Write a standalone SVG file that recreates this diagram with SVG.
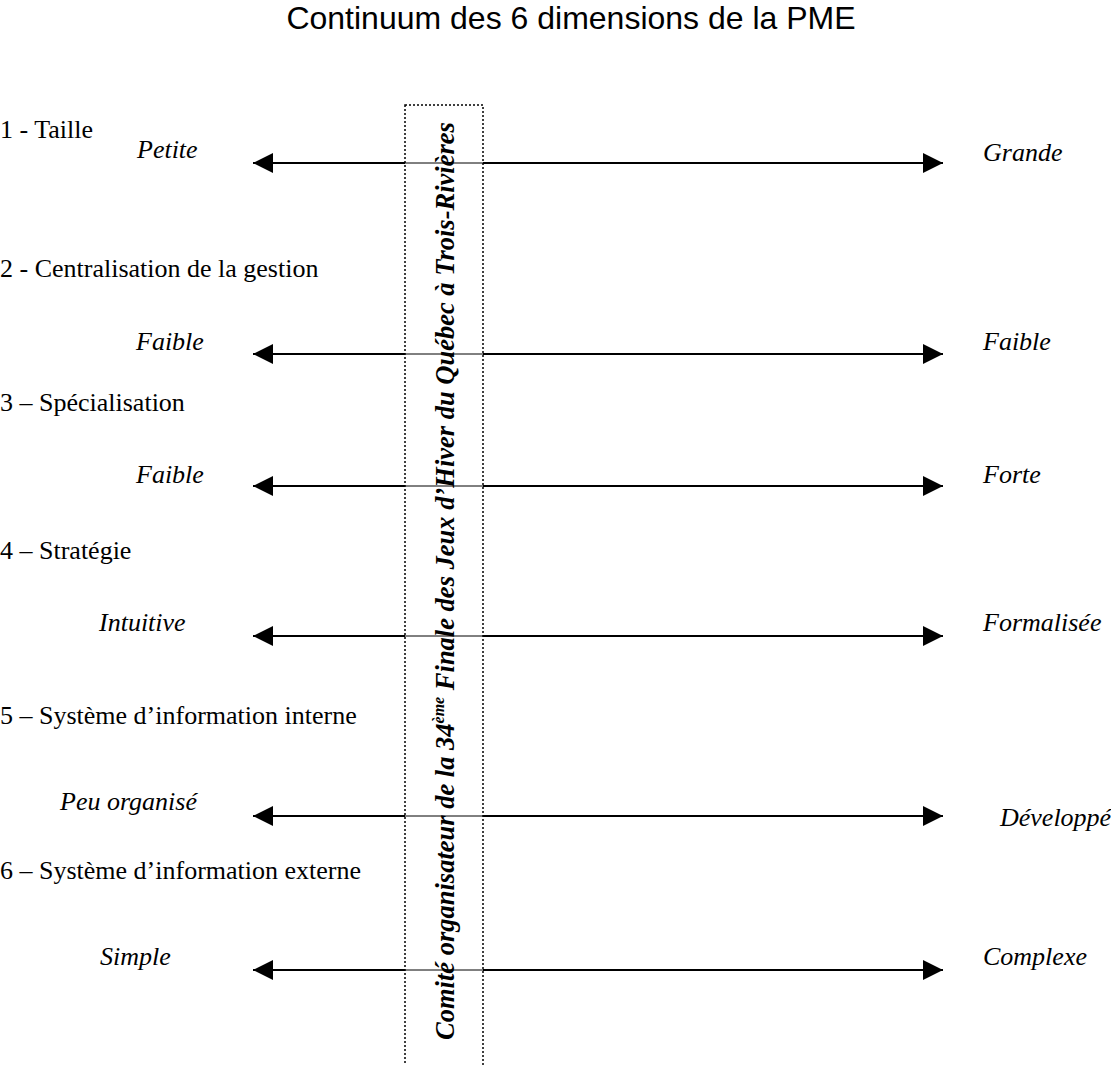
<svg xmlns="http://www.w3.org/2000/svg" width="1111" height="1065" viewBox="0 0 1111 1065">
<style>
.title{font-family:"Liberation Sans",Arial,sans-serif;font-size:32px;fill:#000}
.dim{font-family:"Liberation Serif","Times New Roman",serif;font-size:26px;fill:#000}
.val{font-family:"Liberation Serif","Times New Roman",serif;font-size:26px;font-style:italic;fill:#000}
.vert{font-family:"Liberation Serif","Times New Roman",serif;font-size:26.5px;font-style:italic;font-weight:bold;fill:#000}
.thick{stroke:#000;stroke-width:2;fill:none}
.thin{stroke:#000;stroke-width:1;fill:none}
.box{fill:#fff;stroke:#000;stroke-width:1.5;stroke-dasharray:2 2}
</style>
<defs>
<marker id="ah" viewBox="0 0 20 20" refX="20" refY="10" markerWidth="20" markerHeight="20" markerUnits="userSpaceOnUse" orient="auto-start-reverse">
<path d="M0,0 L20,10 L0,20 Z" fill="#000"/>
</marker>
</defs>
<rect width="1111" height="1065" fill="#fff"/>
<text class="title" x="571" y="29" text-anchor="middle">Continuum des 6 dimensions de la PME</text>

<g id="band">
<rect class="box" x="405" y="105" width="78" height="975"/>
</g>

<g id="connectors">
<g id="c1"><path class="thick" d="M253,163 H405" marker-start="url(#ah)"/><path class="thin" d="M405,163 H483"/><path class="thick" d="M483,163 H943" marker-end="url(#ah)"/></g>
<g id="c2"><path class="thick" d="M253,354 H405" marker-start="url(#ah)"/><path class="thin" d="M405,354 H483"/><path class="thick" d="M483,354 H943" marker-end="url(#ah)"/></g>
<g id="c3"><path class="thick" d="M253,486 H405" marker-start="url(#ah)"/><path class="thin" d="M405,486 H483"/><path class="thick" d="M483,486 H943" marker-end="url(#ah)"/></g>
<g id="c4"><path class="thick" d="M253,636 H405" marker-start="url(#ah)"/><path class="thin" d="M405,636 H483"/><path class="thick" d="M483,636 H943" marker-end="url(#ah)"/></g>
<g id="c5"><path class="thick" d="M253,816 H405" marker-start="url(#ah)"/><path class="thin" d="M405,816 H483"/><path class="thick" d="M483,816 H943" marker-end="url(#ah)"/></g>
<g id="c6"><path class="thick" d="M253,970 H405" marker-start="url(#ah)"/><path class="thin" d="M405,970 H483"/><path class="thick" d="M483,970 H943" marker-end="url(#ah)"/></g>
</g>

<g id="vertical-label">
<text class="vert" transform="translate(454,1040) rotate(-90)">Comité organisateur de la 34<tspan font-size="16" dy="-10">ème</tspan><tspan dy="10"> Finale des Jeux d’Hiver du Québec à Trois-Rivières</tspan></text>
</g>

<g id="row1">
<text class="dim" x="0" y="138">1 - Taille</text>
<text class="val" x="137" y="158">Petite</text>
<text class="val" x="983" y="161">Grande</text>
</g>
<g id="row2">
<text class="dim" x="0" y="277">2 - Centralisation de la gestion</text>
<text class="val" x="136" y="350">Faible</text>
<text class="val" x="983" y="350">Faible</text>
</g>
<g id="row3">
<text class="dim" x="0" y="411">3 – Spécialisation</text>
<text class="val" x="136" y="483">Faible</text>
<text class="val" x="983" y="483">Forte</text>
</g>
<g id="row4">
<text class="dim" x="0" y="559">4 – Stratégie</text>
<text class="val" x="99" y="631">Intuitive</text>
<text class="val" x="983" y="631">Formalisée</text>
</g>
<g id="row5">
<text class="dim" x="0" y="724">5 – Système d’information interne</text>
<text class="val" x="60" y="810">Peu organisé</text>
<text class="val" x="1000" y="826">Développé</text>
</g>
<g id="row6">
<text class="dim" x="0" y="879">6 – Système d’information externe</text>
<text class="val" x="100" y="965">Simple</text>
<text class="val" x="983" y="965">Complexe</text>
</g>
</svg>
